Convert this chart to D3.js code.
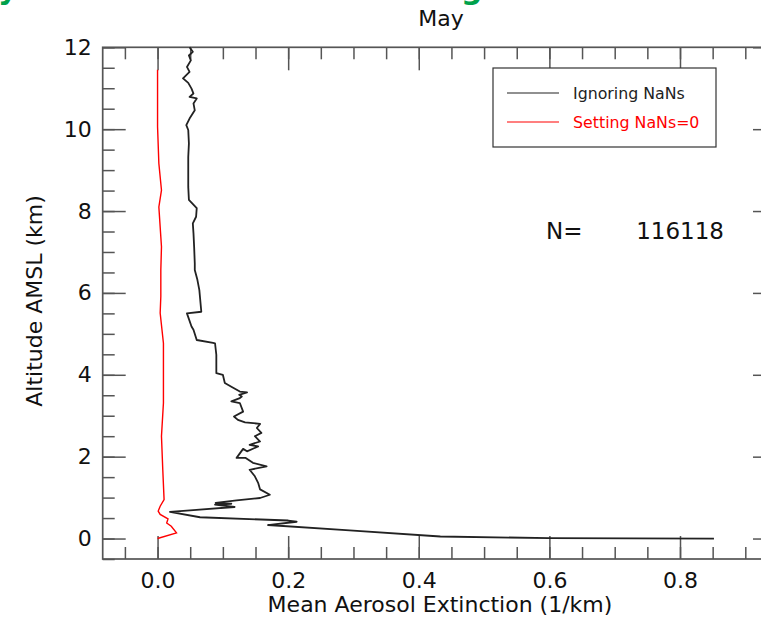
<!DOCTYPE html>
<html>
<head>
<meta charset="utf-8">
<script src="https://cdn.jsdelivr.net/npm/d3@7"></script>
<style>
  body { margin: 0; background: white; }
  text { font-family: "DejaVu Sans", sans-serif; }
</style>
</head>
<body>
<div id="chart"></div>
<script>
// Ignoring NaNs (black): extinction (1/km) at altitude (km)
const blackExt = [0.852, 0.60, 0.433, 0.294, 0.169, 0.213, 0.200, 0.065, 0.019, 0.118, 0.088, 0.113, 0.089, 0.121, 0.157, 0.172,
  0.157, 0.154, 0.149, 0.141, 0.167, 0.146, 0.135, 0.121, 0.131, 0.137, 0.154, 0.141, 0.157, 0.149, 0.159, 0.152, 0.157,
  0.134, 0.123, 0.117, 0.131, 0.126, 0.113, 0.126, 0.129, 0.125, 0.137, 0.126, 0.113, 0.103, 0.100, 0.090, 0.090, 0.088,
  0.085, 0.060, 0.055, 0.052, 0.045, 0.067, 0.064, 0.061, 0.057, 0.057, 0.056, 0.055, 0.054, 0.059, 0.060, 0.048, 0.047,
  0.047, 0.047, 0.048, 0.047, 0.044, 0.049, 0.057, 0.055, 0.060, 0.049, 0.055, 0.052, 0.047, 0.039, 0.049, 0.045, 0.051,
  0.048, 0.054, 0.049];
const blackAlt = [0.00, 0.01, 0.05, 0.20, 0.33, 0.41, 0.44, 0.52, 0.65, 0.77, 0.83, 0.85, 0.87, 0.93, 0.99, 1.07,
  1.20, 1.36, 1.52, 1.68, 1.76, 1.85, 1.97, 1.97, 2.19, 2.13, 2.25, 2.29, 2.37, 2.50, 2.58, 2.70, 2.80,
  2.84, 2.90, 2.98, 3.10, 3.31, 3.35, 3.43, 3.47, 3.51, 3.57, 3.59, 3.71, 3.80, 4.00, 4.04, 4.49, 4.77,
  4.78, 4.85, 5.10, 5.18, 5.50, 5.54, 6.07, 6.32, 6.56, 6.72, 7.13, 7.46, 7.70, 7.86, 8.07, 8.27, 8.59,
  9.00, 9.32, 9.65, 9.98, 10.10, 10.26, 10.46, 10.63, 10.75, 10.79, 10.87, 10.99, 11.13, 11.24, 11.40, 11.52, 11.68,
  11.80, 11.89, 12.00];

// Setting NaNs=0 (red)
const redExt = [0.000, 0.029, 0.021, 0.014, 0.016, 0.004, 0.001, 0.004, 0.010, 0.008, 0.006, 0.009, 0.009, 0.004, 0.005,
  0.005, 0.006, 0.002, 0.006, 0.002, 0.000, 0.000];
const redAlt = [0.00, 0.14, 0.30, 0.38, 0.48, 0.59, 0.67, 0.79, 0.95, 1.68, 2.50, 3.31, 4.77, 5.51, 5.91,
  6.56, 7.13, 8.10, 8.51, 9.16, 10.06, 11.45];

const xMajor = [0, 0.2, 0.4, 0.6, 0.8];
const xMinor = d3.range(-0.05, 0.95, 0.05);
const yMajor = [0, 2, 4, 6, 8, 10, 12];
const yMinor = d3.range(-0.5, 12.01, 0.5);

const legendLabels = ["Ignoring NaNs", "Setting NaNs=0"];
const legendColors = ["#222", "#ff0000"];
const nLabel = "N=";
const nValue = "116118";

const W = 761, H = 619;
const svg = d3.select("#chart").append("svg")
  .attr("width", W)
  .attr("height", H);

const x = d3.scaleLinear().domain([-0.084, 0.947]).range([102.7, 776]);
const y = d3.scaleLinear().domain([-0.5, 12]).range([559, 47.3]);

const frameColor = "#555";

// partly cut-off green heading above the plot (only descenders show)
svg.append("text").attr("x", -2).attr("y", -1).text("y")
  .style("font-size", "30px").style("font-weight", "bold").style("fill", "#00a14b");
svg.append("text").attr("x", 461).attr("y", -1).text("g")
  .style("font-size", "30px").style("font-weight", "bold").style("fill", "#00a14b");

// title
svg.append("text")
  .attr("x", 441).attr("y", 26)
  .attr("text-anchor", "middle")
  .style("font-size", "22px")
  .style("fill", "#111")
  .text("May");

const x0 = x.range()[0], x1 = x.range()[1];
const yb = y.range()[0], yt = y.range()[1];

// axes: ticks point inward on all four sides
function styleAxis(g) {
  g.select(".domain").remove();
  g.selectAll("line").attr("stroke", frameColor).attr("stroke-width", 1.5);
  g.selectAll("text").style("font-size", "22px").style("fill", "#111")
    .style("font-family", "DejaVu Sans, sans-serif");
}

svg.append("g").attr("transform", `translate(0,${yb})`)
  .call(d3.axisBottom(x).tickValues(xMinor).tickSize(-12).tickFormat(""))
  .call(styleAxis);
svg.append("g").attr("transform", `translate(0,${yb})`)
  .call(d3.axisBottom(x).tickValues(xMajor).tickSize(-23).tickPadding(13).tickFormat(d3.format(".1f")))
  .call(styleAxis);
svg.append("g").attr("transform", `translate(0,${yt})`)
  .call(d3.axisTop(x).tickValues(xMinor).tickSize(-12).tickFormat(""))
  .call(styleAxis);
svg.append("g").attr("transform", `translate(0,${yt})`)
  .call(d3.axisTop(x).tickValues(xMajor).tickSize(-23).tickFormat(""))
  .call(styleAxis);

svg.append("g").attr("transform", `translate(${x0},0)`)
  .call(d3.axisLeft(y).tickValues(yMinor).tickSize(-12).tickFormat(""))
  .call(styleAxis);
svg.append("g").attr("transform", `translate(${x0},0)`)
  .call(d3.axisLeft(y).tickValues(yMajor).tickSize(-23).tickPadding(11).tickFormat(d3.format("d")))
  .call(styleAxis);
svg.append("g").attr("transform", `translate(${x1},0)`)
  .call(d3.axisRight(y).tickValues(yMinor).tickSize(-12).tickFormat(""))
  .call(styleAxis);
svg.append("g").attr("transform", `translate(${x1},0)`)
  .call(d3.axisRight(y).tickValues(yMajor).tickSize(-23).tickFormat(""))
  .call(styleAxis);

// frame
svg.append("rect")
  .attr("x", x0).attr("y", yt)
  .attr("width", x1 - x0).attr("height", yb - yt)
  .attr("fill", "none")
  .attr("stroke", frameColor)
  .attr("stroke-width", 1.7);

// axis titles
svg.append("text")
  .attr("x", 440).attr("y", 612)
  .attr("text-anchor", "middle")
  .style("font-size", "22px").style("fill", "#111")
  .text("Mean Aerosol Extinction (1/km)");

svg.append("text")
  .attr("transform", "translate(42,301) rotate(-90)")
  .attr("text-anchor", "middle")
  .style("font-size", "22px").style("fill", "#111")
  .text("Altitude AMSL (km)");

// profiles
const line = d3.line().x(d => x(d[0])).y(d => y(d[1]));

svg.append("path")
  .datum(redExt.map((v, i) => [v, redAlt[i]]))
  .attr("d", line)
  .attr("fill", "none")
  .attr("stroke", legendColors[1])
  .attr("stroke-width", 1.4);

svg.append("path")
  .datum(blackExt.map((v, i) => [v, blackAlt[i]]))
  .attr("d", line)
  .attr("fill", "none")
  .attr("stroke", legendColors[0])
  .attr("stroke-width", 1.8)
  .attr("stroke-linejoin", "round");

// legend
const legend = svg.append("g").attr("transform", "translate(493,68)");
legend.append("rect")
  .attr("width", 223).attr("height", 79)
  .attr("fill", "white")
  .attr("stroke", "#333")
  .attr("stroke-width", 1.2);

legendLabels.forEach((lab, i) => {
  const ly = 25 + i * 29;
  legend.append("line")
    .attr("x1", 14).attr("x2", 66)
    .attr("y1", ly).attr("y2", ly)
    .attr("stroke", legendColors[i])
    .attr("stroke-width", 1.2);
  legend.append("text")
    .attr("x", 80).attr("y", ly)
    .attr("dy", "0.35em")
    .style("font-size", "15.8px")
    .style("fill", i === 0 ? "#222" : "#ff0000")
    .text(lab);
});

// sample count
svg.append("text")
  .attr("x", 546).attr("y", 239)
  .style("font-size", "23px").style("fill", "#111")
  .text(nLabel);
svg.append("text")
  .attr("x", 724).attr("y", 239)
  .attr("text-anchor", "end")
  .style("font-size", "23px").style("fill", "#111")
  .text(nValue);
</script>
</body>
</html>
